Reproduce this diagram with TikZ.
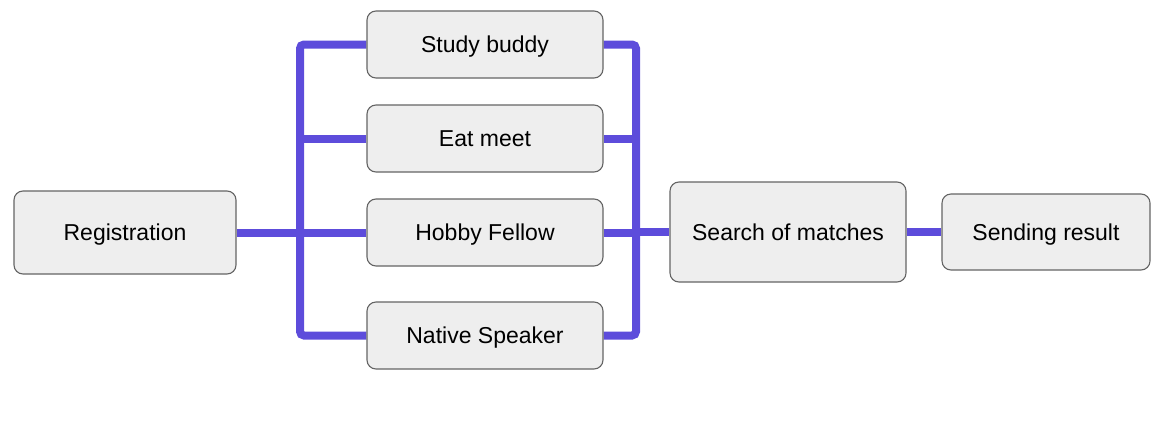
\documentclass[tikz,border=0pt]{standalone}
\usepackage{fontspec}
\setmainfont{Liberation Sans}
\usetikzlibrary{backgrounds}
\definecolor{wire}{RGB}{93,76,219}
\definecolor{boxfill}{RGB}{238,238,238}
\definecolor{boxline}{RGB}{100,100,100}
\begin{document}
\begin{tikzpicture}[x=1pt,y=-1pt,
  box/.style={draw=boxline, fill=boxfill, line width=1.1pt, rounded corners=9pt, inner sep=0pt,
    text height=16.5pt, text depth=0pt,
    font=\fontsize{23}{27}\selectfont},
  wireline/.style={draw=wire, line width=8pt}]
\useasboundingbox (0,0) rectangle (1155,447);
\node[box, minimum width=222pt, minimum height=83pt] (reg) at (125,232.5) {Registration};
\node[box, minimum width=236pt, minimum height=67pt] (sb) at (485,44.5) {Study buddy};
\node[box, minimum width=236pt, minimum height=67pt] (em) at (485,138.5) {Eat meet};
\node[box, minimum width=236pt, minimum height=67pt] (hf) at (485,232.5) {Hobby Fellow};
\node[box, minimum width=236pt, minimum height=67pt] (ns) at (485,335.5) {Native Speaker};
\node[box, minimum width=236pt, minimum height=100pt] (sm) at (788,232) {Search of matches};
\node[box, minimum width=208pt, minimum height=76pt] (sr) at (1046,232) {Sending result};
\coordinate (jl) at (300,0);
\coordinate (jr) at (636,0);
\begin{scope}[on background layer]
\draw[wireline, rounded corners=4pt] (sb.west) -- (jl|-sb.west) -- (jl|-ns.west) -- (ns.west);
\draw[wireline] (em.west) -- (jl|-em.west);
\draw[wireline] (hf.west) -- (jl|-hf.west);
\draw[wireline] (reg.east) -- (jl|-reg.east);
\draw[wireline, rounded corners=4pt] (sb.east) -- (jr|-sb.east) -- (jr|-ns.east) -- (ns.east);
\draw[wireline] (em.east) -- (jr|-em.east);
\draw[wireline] (hf.east) -- (jr|-hf.east);
\draw[wireline] (jr|-sm.west) -- (sm.west);
\draw[wireline] (sm.east) -- (sr.west);
\end{scope}
\end{tikzpicture}
\end{document}
